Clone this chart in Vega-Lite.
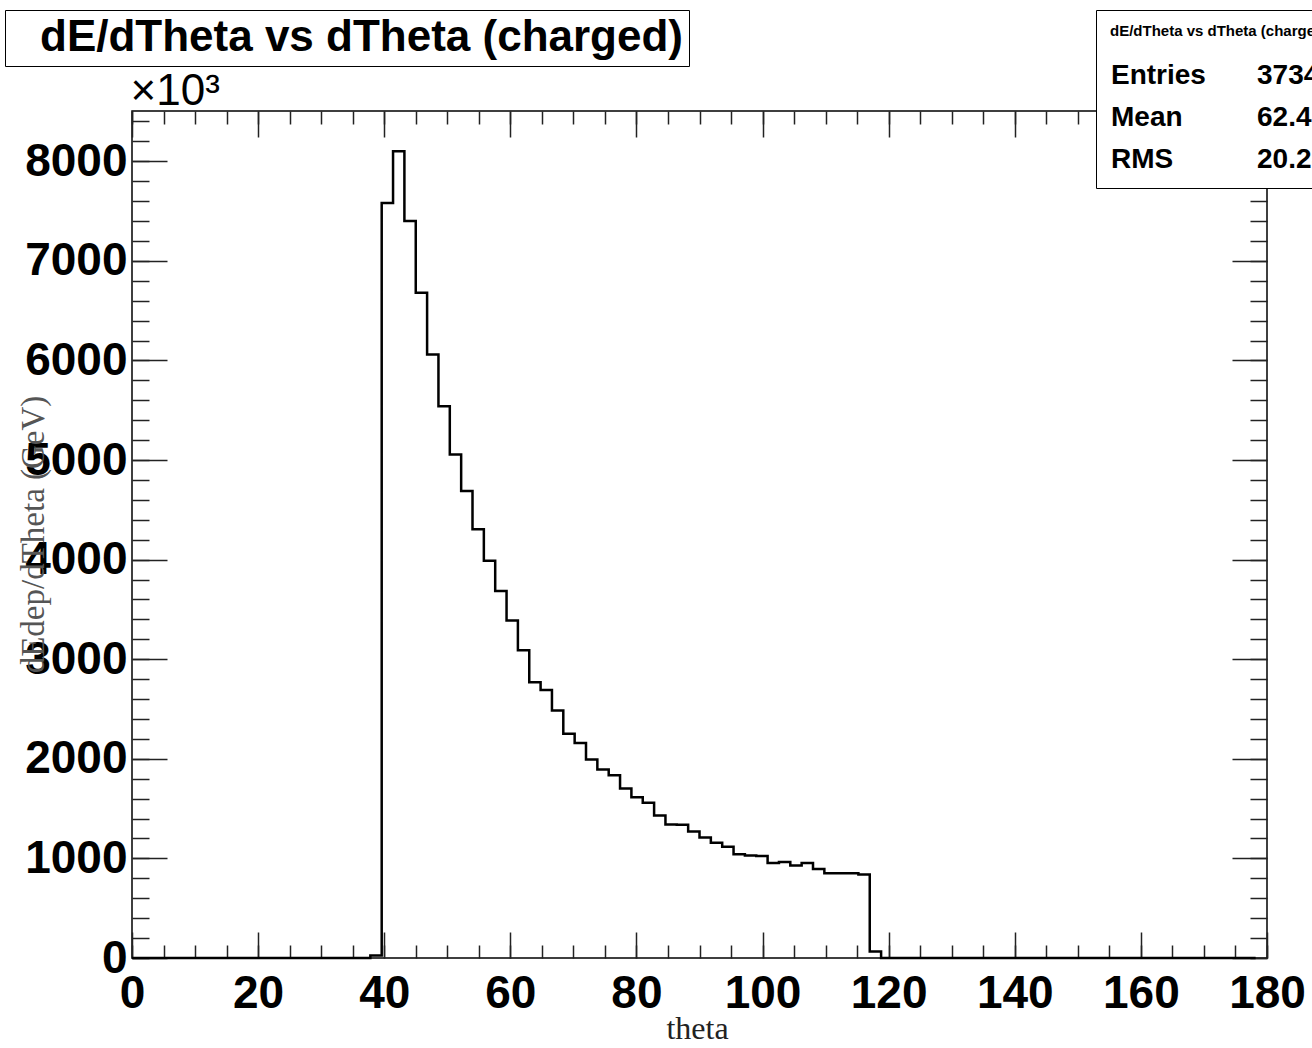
{
  "$schema": "https://vega.github.io/schema/vega-lite/v6.json",
  "width": 1135,
  "height": 847,
  "autosize": {"type": "none"},
  "padding": {"left": 132, "top": 111, "right": 45, "bottom": 90},
  "background": "white",
  "config": {"view": {"stroke": "#000", "strokeWidth": 1.5}},
  "data": {"values": [
    {"theta": 0, "value": 0}, {"theta": 1.8, "value": 0}, {"theta": 3.6, "value": 0}, {"theta": 5.4, "value": 0},
    {"theta": 7.2, "value": 0}, {"theta": 9, "value": 0}, {"theta": 10.8, "value": 0}, {"theta": 12.6, "value": 0},
    {"theta": 14.4, "value": 0}, {"theta": 16.2, "value": 0}, {"theta": 18, "value": 0}, {"theta": 19.8, "value": 0},
    {"theta": 21.6, "value": 0}, {"theta": 23.4, "value": 0}, {"theta": 25.2, "value": 0}, {"theta": 27, "value": 0},
    {"theta": 28.8, "value": 0}, {"theta": 30.6, "value": 0}, {"theta": 32.4, "value": 0}, {"theta": 34.2, "value": 0},
    {"theta": 36, "value": 0}, {"theta": 37.8, "value": 25}, {"theta": 39.6, "value": 7580}, {"theta": 41.4, "value": 8100},
    {"theta": 43.2, "value": 7400}, {"theta": 45, "value": 6680}, {"theta": 46.8, "value": 6060}, {"theta": 48.6, "value": 5540},
    {"theta": 50.4, "value": 5055}, {"theta": 52.2, "value": 4690}, {"theta": 54, "value": 4305}, {"theta": 55.8, "value": 3990},
    {"theta": 57.6, "value": 3685}, {"theta": 59.4, "value": 3390}, {"theta": 61.2, "value": 3090}, {"theta": 63, "value": 2770},
    {"theta": 64.8, "value": 2690}, {"theta": 66.6, "value": 2485}, {"theta": 68.4, "value": 2252}, {"theta": 70.2, "value": 2158},
    {"theta": 72, "value": 1992}, {"theta": 73.8, "value": 1892}, {"theta": 75.6, "value": 1835}, {"theta": 77.4, "value": 1701},
    {"theta": 79.2, "value": 1614}, {"theta": 81, "value": 1560}, {"theta": 82.8, "value": 1430}, {"theta": 84.6, "value": 1340},
    {"theta": 86.4, "value": 1338}, {"theta": 88.2, "value": 1270}, {"theta": 90, "value": 1210}, {"theta": 91.8, "value": 1158},
    {"theta": 93.6, "value": 1116}, {"theta": 95.4, "value": 1043}, {"theta": 97.2, "value": 1028}, {"theta": 99, "value": 1025},
    {"theta": 100.8, "value": 955}, {"theta": 102.6, "value": 965}, {"theta": 104.4, "value": 928}, {"theta": 106.2, "value": 955},
    {"theta": 108, "value": 893}, {"theta": 109.8, "value": 852}, {"theta": 111.6, "value": 850}, {"theta": 113.4, "value": 850},
    {"theta": 115.2, "value": 838}, {"theta": 117, "value": 65}, {"theta": 118.8, "value": 0}, {"theta": 120.6, "value": 0},
    {"theta": 122.4, "value": 0}, {"theta": 124.2, "value": 0}, {"theta": 126, "value": 0}, {"theta": 127.8, "value": 0},
    {"theta": 129.6, "value": 0}, {"theta": 131.4, "value": 0}, {"theta": 133.2, "value": 0}, {"theta": 135, "value": 0},
    {"theta": 136.8, "value": 0}, {"theta": 138.6, "value": 0}, {"theta": 140.4, "value": 0}, {"theta": 142.2, "value": 0},
    {"theta": 144, "value": 0}, {"theta": 145.8, "value": 0}, {"theta": 147.6, "value": 0}, {"theta": 149.4, "value": 0},
    {"theta": 151.2, "value": 0}, {"theta": 153, "value": 0}, {"theta": 154.8, "value": 0}, {"theta": 156.6, "value": 0},
    {"theta": 158.4, "value": 0}, {"theta": 160.2, "value": 0}, {"theta": 162, "value": 0}, {"theta": 163.8, "value": 0},
    {"theta": 165.6, "value": 0}, {"theta": 167.4, "value": 0}, {"theta": 169.2, "value": 0}, {"theta": 171, "value": 0},
    {"theta": 172.8, "value": 0}, {"theta": 174.6, "value": 0}, {"theta": 176.4, "value": 0}, {"theta": 178.2, "value": 0}
  ]},
  "resolve": {"axis": {"x": "independent", "y": "independent"}},
  "layer": [
    {
      "mark": {"type": "line", "interpolate": "step-after", "strokeWidth": 2.5, "strokeJoin": "miter", "strokeCap": "butt"},
      "encoding": {
        "x": {"field": "theta", "type": "quantitative", "scale": {"domain": [0, 180], "nice": false, "zero": false},
          "axis": {"orient": "bottom", "values": [0, 20, 40, 60, 80, 100, 120, 140, 160, 180], "format": "d", "ticks": false, "domain": false, "grid": false,
            "labelFont": "Liberation Sans", "labelFontWeight": "bold", "labelFontSize": 46, "labelColor": "#000",
            "labelPadding": 49, "labelBaseline": "alphabetic", "labelFlush": false, "labelOverlap": false,
            "title": "theta", "titleFont": "Liberation Serif", "titleFontSize": 32, "titleFontWeight": "normal", "titleColor": "#222",
            "titleX": 565, "titleY": 80, "titleAlign": "center", "titleBaseline": "alphabetic"}},
        "y": {"field": "value", "type": "quantitative", "scale": {"domain": [0, 8505], "nice": false, "zero": false},
          "axis": {"orient": "left", "values": [0, 1000, 2000, 3000, 4000, 5000, 6000, 7000, 8000], "format": "d", "ticks": false, "domain": false, "grid": false,
            "labelFont": "Liberation Sans", "labelFontWeight": "bold", "labelFontSize": 46, "labelColor": "#000",
            "labelPadding": 5, "labelBaseline": "middle", "labelAlign": "right", "labelFlush": false, "labelOverlap": false,
            "title": "dEdep/dTheta (GeV)", "titleFont": "Liberation Serif", "titleFontSize": 33, "titleFontWeight": "normal", "titleColor": "#555",
            "titleX": -89, "titleY": 423, "titleAlign": "center", "titleBaseline": "alphabetic", "titleAngle": 270}},
        "color": {"datum": "dE/dTheta vs dTheta (charged)", "type": "nominal", "scale": {"range": ["#000"]},
          "legend": {"orient": "none", "legendX": -127, "legendY": -101, "title": null, "strokeColor": "#000", "fillColor": "#fff",
            "padding": 6, "labelFont": "Liberation Sans", "labelFontWeight": "bold", "labelFontSize": 44, "labelColor": "#000",
            "labelLimit": 2000, "labelOffset": -15, "symbolOpacity": 0, "symbolStrokeWidth": 0, "symbolSize": 1}}
      }
    },
    {
      "mark": {"type": "line", "opacity": 0},
      "encoding": {
        "x": {"field": "theta", "type": "quantitative", "scale": {"domain": [0, 180], "nice": false, "zero": false},
          "axis": {"orient": "bottom", "values": [0, 20, 40, 60, 80, 100, 120, 140, 160, 180], "labels": false, "domain": false, "grid": false, "title": null,
            "ticks": true, "tickSize": 26, "offset": -26, "tickColor": "#222", "tickWidth": 1.5}},
        "y": {"field": "value", "type": "quantitative", "scale": {"domain": [0, 8505], "nice": false, "zero": false},
          "axis": {"orient": "left", "values": [0, 1000, 2000, 3000, 4000, 5000, 6000, 7000, 8000], "labels": false, "domain": false, "grid": false, "title": null,
            "ticks": true, "tickSize": 35, "offset": -35, "tickColor": "#222", "tickWidth": 1.5}}
      }
    },
    {
      "mark": {"type": "line", "opacity": 0},
      "encoding": {
        "x": {"field": "theta", "type": "quantitative", "scale": {"domain": [0, 180], "nice": false, "zero": false},
          "axis": {"orient": "bottom", "values": [0, 5, 10, 15, 20, 25, 30, 35, 40, 45, 50, 55, 60, 65, 70, 75, 80, 85, 90, 95, 100, 105, 110, 115, 120, 125, 130, 135, 140, 145, 150, 155, 160, 165, 170, 175, 180],
            "labels": false, "domain": false, "grid": false, "title": null,
            "ticks": true, "tickSize": 13, "offset": -13, "tickColor": "#222", "tickWidth": 1.5}},
        "y": {"field": "value", "type": "quantitative", "scale": {"domain": [0, 8505], "nice": false, "zero": false},
          "axis": {"orient": "left", "values": [0, 200, 400, 600, 800, 1000, 1200, 1400, 1600, 1800, 2000, 2200, 2400, 2600, 2800, 3000, 3200, 3400, 3600, 3800, 4000, 4200, 4400, 4600, 4800, 5000, 5200, 5400, 5600, 5800, 6000, 6200, 6400, 6600, 6800, 7000, 7200, 7400, 7600, 7800, 8000, 8200, 8400],
            "labels": false, "domain": false, "grid": false, "title": null,
            "ticks": true, "tickSize": 17, "offset": -17, "tickColor": "#222", "tickWidth": 1.5}}
      }
    },
    {
      "mark": {"type": "line", "opacity": 0},
      "encoding": {
        "x": {"field": "theta", "type": "quantitative", "scale": {"domain": [0, 180], "nice": false, "zero": false},
          "axis": {"orient": "top", "values": [0, 20, 40, 60, 80, 100, 120, 140, 160, 180], "labels": false, "domain": false, "grid": false,
            "ticks": true, "tickSize": 26, "offset": -26, "tickColor": "#222", "tickWidth": 1.5,
            "title": "×10³", "titleX": -2, "titleY": -33, "titleAlign": "left", "titleAngle": 0, "titleBaseline": "alphabetic",
            "titleFont": "Liberation Sans", "titleFontSize": 44, "titleFontWeight": "normal", "titleColor": "#000"}},
        "y": {"field": "value", "type": "quantitative", "scale": {"domain": [0, 8505], "nice": false, "zero": false},
          "axis": {"orient": "right", "values": [0, 1000, 2000, 3000, 4000, 5000, 6000, 7000, 8000], "labels": false, "domain": false, "grid": false, "title": null,
            "ticks": true, "tickSize": 35, "offset": -35, "tickColor": "#222", "tickWidth": 1.5}}
      }
    },
    {
      "mark": {"type": "line", "opacity": 0},
      "encoding": {
        "x": {"field": "theta", "type": "quantitative", "scale": {"domain": [0, 180], "nice": false, "zero": false},
          "axis": {"orient": "top", "values": [0, 5, 10, 15, 20, 25, 30, 35, 40, 45, 50, 55, 60, 65, 70, 75, 80, 85, 90, 95, 100, 105, 110, 115, 120, 125, 130, 135, 140, 145, 150, 155, 160, 165, 170, 175, 180],
            "labels": false, "domain": false, "grid": false, "title": null,
            "ticks": true, "tickSize": 13, "offset": -13, "tickColor": "#222", "tickWidth": 1.5}},
        "y": {"field": "value", "type": "quantitative", "scale": {"domain": [0, 8505], "nice": false, "zero": false},
          "axis": {"orient": "right", "values": [0, 200, 400, 600, 800, 1000, 1200, 1400, 1600, 1800, 2000, 2200, 2400, 2600, 2800, 3000, 3200, 3400, 3600, 3800, 4000, 4200, 4400, 4600, 4800, 5000, 5200, 5400, 5600, 5800, 6000, 6200, 6400, 6600, 6800, 7000, 7200, 7400, 7600, 7800, 8000, 8200, 8400],
            "labels": false, "domain": false, "grid": false, "title": null,
            "ticks": true, "tickSize": 17, "offset": -17, "tickColor": "#222", "tickWidth": 1.5}}
      }
    },
    {
      "data": {"values": [
        {"stat": "Entries"}, {"stat": "373460"},
        {"stat": "Mean"}, {"stat": "62.41"},
        {"stat": "RMS"}, {"stat": "20.28"}
      ]},
      "mark": {"type": "point", "opacity": 0},
      "encoding": {
        "shape": {"field": "stat", "type": "nominal",
          "scale": {"domain": ["Entries", "373460", "Mean", "62.41", "RMS", "20.28"]},
          "legend": {"orient": "none", "legendX": 964, "legendY": -101, "direction": "horizontal", "columns": 2, "columnPadding": 50, "rowPadding": 14,
            "title": "dE/dTheta vs dTheta (charged)", "titleFont": "Liberation Sans", "titleFontSize": 15, "titleFontWeight": "bold",
            "titleColor": "#000", "titleLimit": 2000, "titlePadding": 23,
            "labelFont": "Liberation Sans", "labelFontWeight": "bold", "labelFontSize": 28, "labelColor": "#000", "labelLimit": 2000,
            "labelOffset": -27, "symbolOpacity": 0, "symbolStrokeWidth": 0, "symbolSize": 1,
            "padding": 14, "strokeColor": "#000", "fillColor": "#fff"}}
      }
    }
  ]
}
